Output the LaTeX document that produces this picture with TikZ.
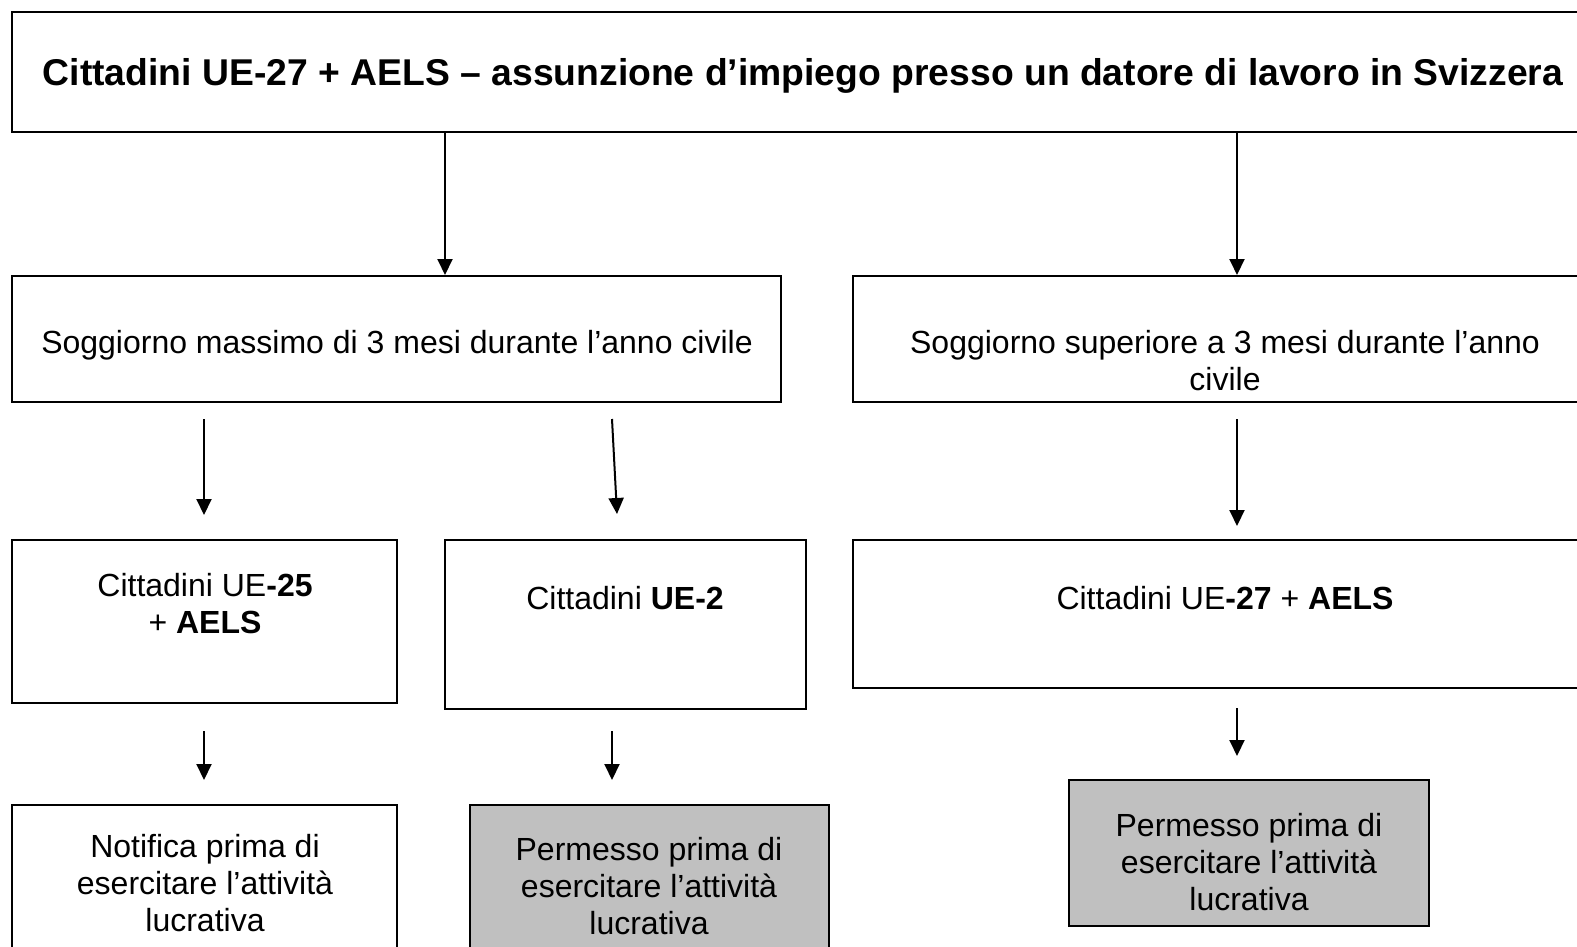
\documentclass[tikz,border=0pt]{standalone}
\usepackage{fontspec}
\setmainfont{Liberation Sans}
\usetikzlibrary{arrows.meta}
\begin{document}
\begin{tikzpicture}[x=1pt,y=-1pt,
  box/.style={draw=black,line width=2pt,inner sep=0pt,outer sep=0pt},
  graybox/.style={box,fill=gray75},
  txt/.style={align=center,inner sep=0pt,font=\fontsize{32}{37}\selectfont},
  arr/.style={line width=2pt,-{Triangle[width=15pt,length=16pt]}}]
\definecolor{gray75}{RGB}{192,192,192}
\clip (0,0) rectangle (1577,947);
\fill[white] (0,0) rectangle (1577,947);
% boxes
\node[box,minimum width=1588pt,minimum height=120pt] (T) at (806,72) {};
\node[box,minimum width=769pt,minimum height=126pt] (A) at (396.5,339) {};
\node[box,minimum width=747pt,minimum height=126pt] (B) at (1226.5,339) {};
\node[box,minimum width=385pt,minimum height=163pt] (C) at (204.5,621.5) {};
\node[box,minimum width=361pt,minimum height=169pt] (D) at (625.5,624.5) {};
\node[box,minimum width=747pt,minimum height=148pt] (E) at (1226.5,614) {};
\node[box,minimum width=385pt,minimum height=155pt] (F) at (204.5,882.5) {};
\node[graybox,minimum width=359pt,minimum height=155pt] (G) at (649.5,882.5) {};
\node[graybox,minimum width=360pt,minimum height=146pt] (H) at (1249,853) {};
% texts
\node[txt,font=\fontsize{37.3}{42}\selectfont\bfseries] (tT) at (803,76) {Cittadini UE-27 + AELS – assunzione d’impiego presso un datore di lavoro in Svizzera};
\node[txt] (tA) at (397,345) {Soggiorno massimo di 3 mesi durante l’anno civile};
\node[txt] (tB) at (1225,360.5) {Soggiorno superiore a 3 mesi durante l’anno\\civile};
\node[txt] (tC) at (205,603.5) {Cittadini UE\textbf{-25}\\+ \textbf{AELS}};
\node[txt] (tD) at (625,598) {Cittadini \textbf{UE-2}};
\node[txt] (tE) at (1225,598) {Cittadini UE\textbf{-27} + \textbf{AELS}};
\node[txt] (tF) at (205,883) {Notifica prima di\\esercitare l’attività\\lucrativa};
\node[txt] (tG) at (649,886) {Permesso prima di\\esercitare l’attività\\lucrativa};
\node[txt] (tH) at (1249,862) {Permesso prima di\\esercitare l’attività\\lucrativa};
% arrow endpoints
\coordinate (a1s) at (445,132); \coordinate (a1e) at (445,275);
\coordinate (a2s) at (1237,132); \coordinate (a2e) at (1237,275);
\coordinate (a3s) at (204,419); \coordinate (a3e) at (204,515);
\coordinate (a4s) at (612,419); \coordinate (a4e) at (617,514);
\coordinate (a5s) at (1237,419); \coordinate (a5e) at (1237,526);
\coordinate (a6s) at (204,731); \coordinate (a6e) at (204,780);
\coordinate (a7s) at (612,731); \coordinate (a7e) at (612,780);
\coordinate (a8s) at (1237,708); \coordinate (a8e) at (1237,756);
\draw[arr] (a1s) -- (a1e);
\draw[arr] (a2s) -- (a2e);
\draw[arr] (a3s) -- (a3e);
\draw[arr] (a4s) -- (a4e);
\draw[arr] (a5s) -- (a5e);
\draw[arr] (a6s) -- (a6e);
\draw[arr] (a7s) -- (a7e);
\draw[arr] (a8s) -- (a8e);
\end{tikzpicture}
\end{document}
